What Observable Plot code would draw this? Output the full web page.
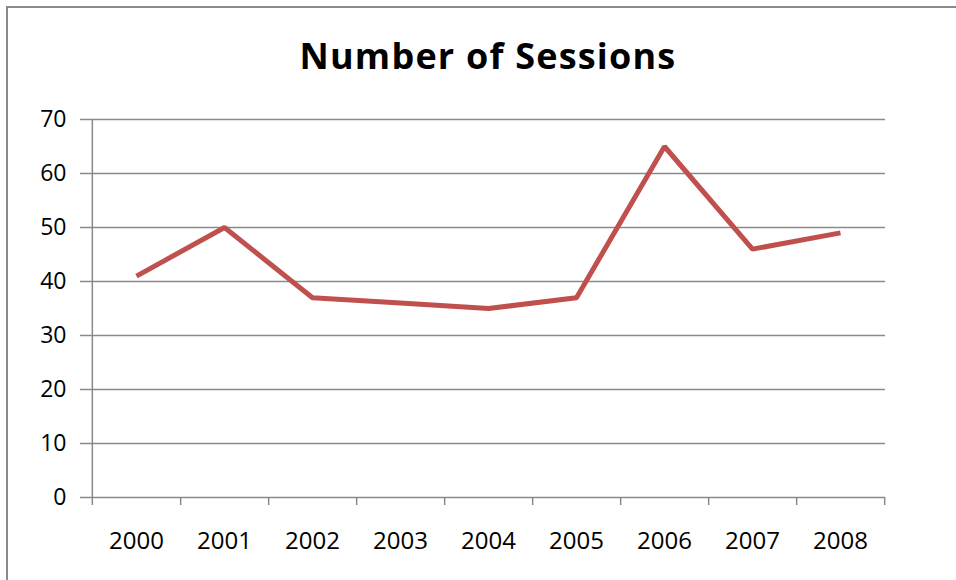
<!DOCTYPE html>
<html>
<head>
<meta charset="utf-8">
<script src="https://cdn.jsdelivr.net/npm/d3@7"></script>
<script src="https://cdn.jsdelivr.net/npm/@observablehq/plot@0.6"></script>
<style>
  html, body { margin: 0; padding: 0; background: #fff; }
  #wrap { position: relative; width: 956px; height: 580px; overflow: hidden; font-family: "Open Sans", sans-serif; background: #fff; }
  #frame { position: absolute; left: 6px; top: 6px; width: 1000px; height: 1000px; border-left: 2px solid #8a8a8a; border-top: 2px solid #8a8a8a; pointer-events: none; z-index: 5; }
  #title { position: absolute; left: 0; top: 0; width: 956px; height: 95px; box-sizing: border-box; padding-left: 20px; text-align: center; font-weight: 700; font-size: 36px; letter-spacing: 1.2px; line-height: 1; padding-top: 38px; color: #000; z-index: 2; }
  #chart { position: absolute; left: 0; top: 95px; }
</style>
</head>
<body>
<div id="wrap">
  <div id="chart"></div>
  <div id="title">Number of Sessions</div>
  <div id="frame"></div>
</div>
<script>
const years = ["2000", "2001", "2002", "2003", "2004", "2005", "2006", "2007", "2008"];
const sessions = [41, 50, 37, 36, 35, 37, 65, 46, 49];
const yTicks = [0, 10, 20, 30, 40, 50, 60, 70];

const data = years.map((y, i) => ({year: y, value: sessions[i]}));

const W = 956, H = 485, mL = 90, mR = 71, mT = 24, mB = 83;
const step = (W - mL - mR) / years.length;
const gridColor = "#8a8a8a";

const chart = Plot.plot({
  width: W,
  height: H,
  marginLeft: mL,
  marginRight: mR,
  marginTop: mT,
  marginBottom: mB,
  style: {fontFamily: "Open Sans, sans-serif", color: "#000", background: "transparent"},
  x: {type: "point", domain: years, padding: 0.5, align: 0.5, label: null},
  y: {domain: [0, 70], label: null},
  marks: [
    Plot.ruleY(yTicks, {y: d => d, stroke: gridColor, strokeWidth: 1.5, insetLeft: -10}),
    Plot.ruleX([years[0]], {x: d => d, dx: -step / 2, stroke: gridColor, strokeWidth: 1.5, insetBottom: -8}),
    Plot.ruleX(years, {x: d => d, dx: step / 2, y1: 0, y2: 0, stroke: gridColor, strokeWidth: 1.5, insetBottom: -8}),
    Plot.axisY({ticks: yTicks, tickSize: 0, tickPadding: 24, fontSize: 23, label: null, tickFormat: d => String(d)}),
    Plot.axisX({tickSize: 0, tickPadding: 34, fontSize: 24, label: null}),
    Plot.line(data, {x: "year", y: "value", stroke: "#c0504d", strokeWidth: 5, strokeLinejoin: "miter", strokeLinecap: "butt"})
  ]
});
document.getElementById("chart").appendChild(chart);
</script>
</body>
</html>
